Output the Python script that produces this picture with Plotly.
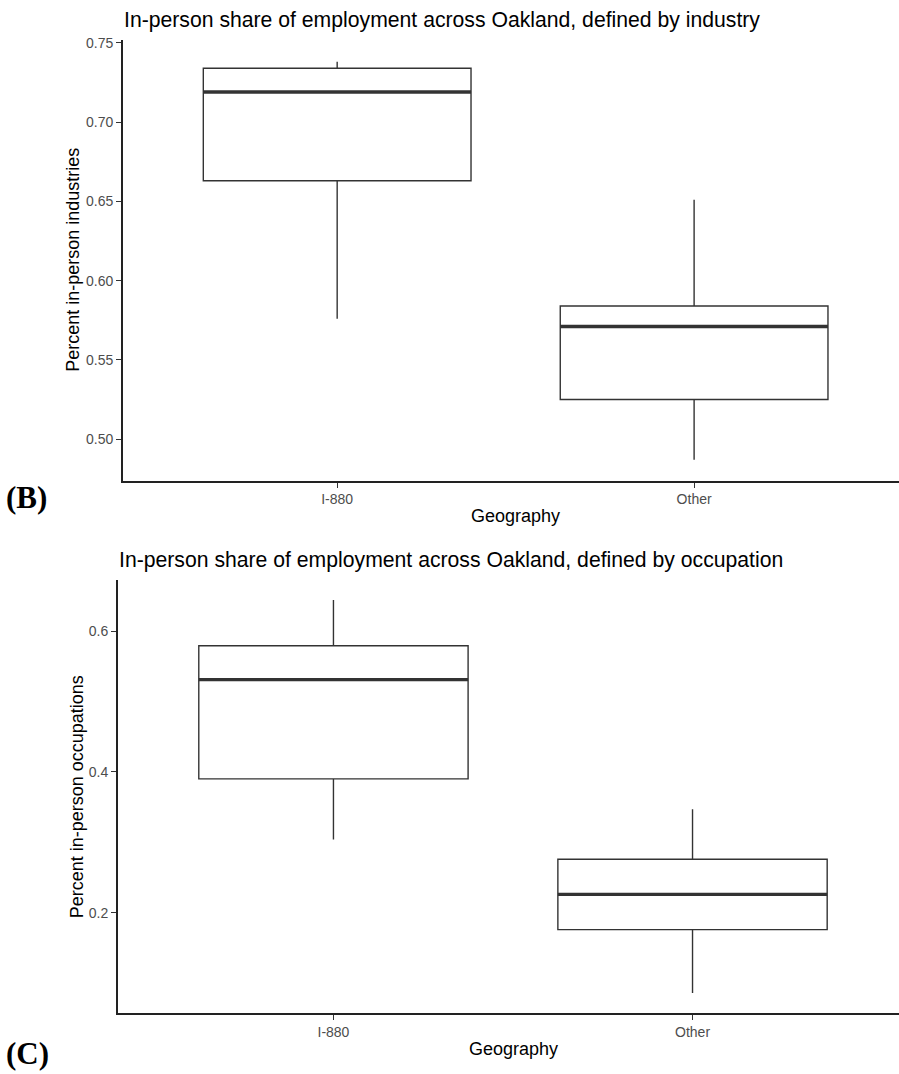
import plotly.graph_objects as go

# Geography groups shown on the x axis
geographies = ["I-880", "Other"]

# Panel B: in-person share defined by industry (box summary per geography)
ind_lower = [0.576, 0.487]
ind_q1 = [0.663, 0.525]
ind_median = [0.719, 0.571]
ind_q3 = [0.734, 0.584]
ind_upper = [0.738, 0.651]

# Panel C: in-person share defined by occupation
occ_lower = [0.304, 0.086]
occ_q1 = [0.390, 0.176]
occ_median = [0.531, 0.226]
occ_q3 = [0.579, 0.276]
occ_upper = [0.644, 0.347]

ind_ticks = [0.50, 0.55, 0.60, 0.65, 0.70, 0.75]
ind_ticktext = ["0.50", "0.55", "0.60", "0.65", "0.70", "0.75"]
occ_ticks = [0.2, 0.4, 0.6]
occ_ticktext = ["0.2", "0.4", "0.6"]

W, H = 899, 1074
FONT = "Liberation Sans, Arial, sans-serif"
INK = "#333333"
BOX_W = 0.75
xpos = list(range(len(geographies)))


def px(x):
    return x / W


def py(y):
    return 1 - y / H


fig = go.Figure()


def add_panel(xa, ya, lower, q1, med, q3, upper):
    fig.add_trace(go.Box(
        x=xpos, lowerfence=lower, q1=q1, median=med, q3=q3, upperfence=upper,
        width=BOX_W, whiskerwidth=0, fillcolor="white",
        line=dict(color=INK, width=1.4), boxpoints=False,
        xaxis=xa, yaxis=ya, showlegend=False, hoverinfo="skip",
    ))
    # heavier median bar drawn across each box
    mx, my = [], []
    for xi, m in zip(xpos, med):
        mx += [xi - BOX_W / 2, xi + BOX_W / 2, None]
        my += [m, m, None]
    fig.add_trace(go.Scatter(
        x=mx, y=my, mode="lines", line=dict(color=INK, width=3.4),
        xaxis=xa, yaxis=ya, showlegend=False, hoverinfo="skip",
    ))


add_panel("x", "y", ind_lower, ind_q1, ind_median, ind_q3, ind_upper)
add_panel("x2", "y2", occ_lower, occ_q1, occ_median, occ_q3, occ_upper)

axis_common = dict(
    showline=True, linecolor="#222222", linewidth=1.8, mirror=False,
    ticks="outside", ticklen=5, tickwidth=1.3, tickcolor=INK,
    showgrid=False, zeroline=False,
    tickfont=dict(family=FONT, size=14, color="#4d4d4d"),
)

fig.update_layout(
    width=W, height=H,
    margin=dict(l=0, r=0, t=0, b=0),
    paper_bgcolor="white", plot_bgcolor="white",
    xaxis=dict(domain=[px(123), 1], range=[-0.6, 1.574], anchor="y",
               tickvals=xpos, ticktext=geographies, **axis_common),
    yaxis=dict(domain=[py(478), py(35)], range=[0.4737, 0.7519], anchor="x",
               tickvals=ind_ticks, ticktext=ind_ticktext, **axis_common),
    xaxis2=dict(domain=[px(118), 1], range=[-0.6, 1.575], anchor="y2",
                tickvals=xpos, ticktext=geographies, **axis_common),
    yaxis2=dict(domain=[py(1013), py(578)], range=[0.0572, 0.672], anchor="x2",
                tickvals=occ_ticks, ticktext=occ_ticktext, **axis_common),
)

annotations = [
    # panel titles
    dict(text="In-person share of employment across Oakland, defined by industry",
         x=px(122), y=py(15), xanchor="left", yanchor="middle",
         font=dict(family=FONT, size=21.2, color="black")),
    dict(text="In-person share of employment across Oakland, defined by occupation",
         x=px(117), y=py(558), xanchor="left", yanchor="middle",
         font=dict(family=FONT, size=21.2, color="black")),
    # axis titles
    dict(text="Percent in-person industries", x=px(73), y=py(256), textangle=-90,
         xanchor="center", yanchor="middle",
         font=dict(family=FONT, size=18, color="black")),
    dict(text="Percent in-person occupations", x=px(77), y=py(796), textangle=-90,
         xanchor="center", yanchor="middle",
         font=dict(family=FONT, size=18, color="black")),
    dict(text="Geography", x=px(515), y=py(513), xanchor="center", yanchor="middle",
         font=dict(family=FONT, size=18, color="black")),
    dict(text="Geography", x=px(513), y=py(1049), xanchor="center", yanchor="middle",
         font=dict(family=FONT, size=18, color="black")),
    # panel letters
    dict(text="<b>(B)</b>", x=px(4), y=py(495), xanchor="left", yanchor="middle",
         font=dict(family="Liberation Serif, Times New Roman, serif", size=31, color="black")),
    dict(text="<b>(C)</b>", x=px(4), y=py(1053), xanchor="left", yanchor="middle",
         font=dict(family="Liberation Serif, Times New Roman, serif", size=31, color="black")),
]
for a in annotations:
    a.update(xref="paper", yref="paper", showarrow=False)
fig.update_layout(annotations=annotations)

fig.write_html("out.html")
